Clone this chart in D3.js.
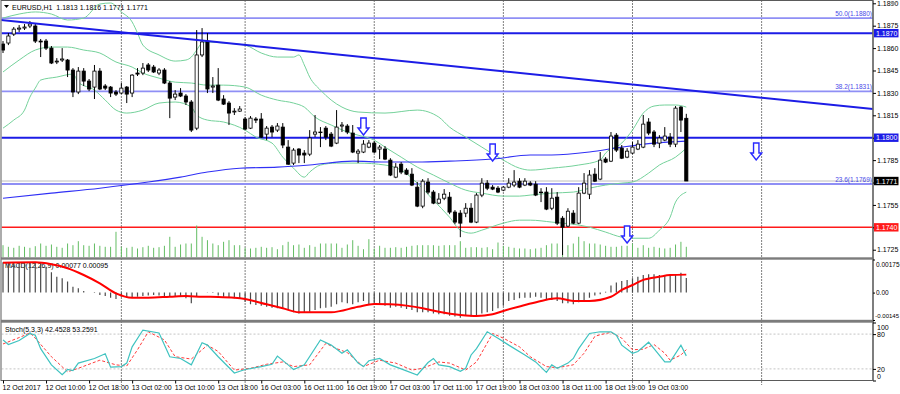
<!DOCTYPE html>
<html><head><meta charset="utf-8">
<script src="https://cdn.jsdelivr.net/npm/d3@7"></script>
<style>
html,body{margin:0;padding:0;background:#fff;}
svg{display:block;font-family:"Liberation Sans",Arial,sans-serif;}
</style></head><body>
<svg id="c" width="900" height="394"></svg>
<script>
// ---------------- DATA ----------------
const symbolTitle = "EURUSD,H1";
const lastOHLC = ["1.1813","1.1816","1.1771","1.1771"];
const opens = [1.18627,1.18634,1.18694,1.18727,1.18734,1.18748,1.18748,1.18647,1.18647,1.18600,
1.18507,1.18520,1.18520,1.18453,1.18306,1.18446,1.18379,1.18339,1.18446,1.18346,
1.18339,1.18306,1.18299,1.18339,1.18299,1.18433,1.18433,1.18487,1.18473,1.18433,
1.18453,1.18366,1.18272,1.18299,1.18279,1.18239,1.18064,1.18554,1.18647,1.18339,
1.18352,1.18259,1.18232,1.18172,1.18178,1.18125,1.18064,1.18125,1.18125,1.18024,
1.18071,1.18051,1.18071,1.17937,1.17830,1.17924,1.17897,1.17890,1.18024,1.18038,
1.18064,1.18024,1.17964,1.18078,1.18078,1.18031,1.17897,1.17904,1.17937,1.17964,
1.17924,1.17924,1.17850,1.17736,1.17823,1.17783,1.17756,1.17669,1.17542,1.17703,
1.17636,1.17562,1.17595,1.17602,1.17502,1.17495,1.17495,1.17528,1.17435,1.17616,
1.17696,1.17669,1.17662,1.17649,1.17669,1.17683,1.17709,1.17683,1.17696,1.17689,
1.17636,1.17636,1.17528,1.17602,1.17461,1.17408,1.17495,1.17428,1.17629,1.17622,
1.17756,1.17723,1.17857,1.17843,1.18017,1.17930,1.17870,1.17897,1.17924,1.17937,
1.18105,1.18038,1.17964,1.17984,1.18004,1.17957,1.18205,1.18130];
const highs = [1.18647,1.18701,1.18741,1.18754,1.18761,1.18781,1.18768,1.18661,1.18661,1.18614,
1.18533,1.18600,1.18527,1.18466,1.18473,1.18466,1.18393,1.18487,1.18466,1.18359,
1.18346,1.18319,1.18366,1.18346,1.18426,1.18466,1.18500,1.18500,1.18487,1.18466,
1.18466,1.18379,1.18319,1.18332,1.18292,1.18252,1.18721,1.18734,1.18701,1.18406,
1.18466,1.18285,1.18245,1.18198,1.18212,1.18138,1.18145,1.18138,1.18165,1.18078,
1.18085,1.18098,1.18098,1.17984,1.17930,1.17930,1.17917,1.18051,1.18152,1.18071,
1.18078,1.18038,1.18185,1.18105,1.18091,1.18085,1.17924,1.17984,1.17984,1.17977,
1.17951,1.17944,1.17863,1.17830,1.17837,1.17796,1.17796,1.17703,1.17723,1.17729,
1.17649,1.17629,1.17656,1.17636,1.17515,1.17515,1.17562,1.17562,1.17629,1.17729,
1.17716,1.17683,1.17676,1.17676,1.17729,1.17783,1.17729,1.17729,1.17709,1.17709,
1.17662,1.17669,1.17662,1.17636,1.17475,1.17528,1.17515,1.17669,1.17763,1.17783,
1.17796,1.17904,1.17870,1.18038,1.18031,1.17951,1.17930,1.17971,1.17984,1.18152,
1.18131,1.18051,1.18017,1.18071,1.18031,1.18212,1.18212,1.18160];
const lows = [1.18567,1.18620,1.18681,1.18708,1.18721,1.18734,1.18634,1.18540,1.18587,1.18493,
1.18493,1.18507,1.18406,1.18272,1.18292,1.18346,1.18312,1.18259,1.18319,1.18319,
1.18272,1.18279,1.18292,1.18232,1.18272,1.18413,1.18419,1.18440,1.18433,1.18419,
1.18359,1.18131,1.18252,1.18272,1.18219,1.18038,1.18051,1.18540,1.18299,1.18299,
1.18245,1.18219,1.18085,1.18152,1.18172,1.18051,1.18058,1.18098,1.17998,1.17984,
1.18004,1.18038,1.17930,1.17817,1.17817,1.17830,1.17830,1.17877,1.18004,1.17937,
1.17984,1.17937,1.17957,1.18038,1.18024,1.17897,1.17830,1.17897,1.17930,1.17897,
1.17857,1.17850,1.17743,1.17729,1.17756,1.17750,1.17676,1.17535,1.17528,1.17622,
1.17555,1.17555,1.17582,1.17488,1.17421,1.17334,1.17468,1.17428,1.17428,1.17602,
1.17649,1.17649,1.17629,1.17642,1.17662,1.17669,1.17662,1.17676,1.17676,1.17609,
1.17569,1.17515,1.17515,1.17415,1.17214,1.17401,1.17421,1.17421,1.17622,1.17589,
1.17703,1.17716,1.17830,1.17837,1.17904,1.17857,1.17863,1.17890,1.17917,1.17930,
1.18017,1.17937,1.17930,1.17977,1.17937,1.17937,1.18038,1.17710];
const closes = [1.18587,1.18681,1.18727,1.18734,1.18741,1.18761,1.18647,1.18641,1.18600,1.18500,
1.18513,1.18527,1.18453,1.18306,1.18446,1.18379,1.18326,1.18446,1.18326,1.18332,
1.18299,1.18292,1.18332,1.18292,1.18419,1.18426,1.18466,1.18453,1.18440,1.18453,
1.18366,1.18265,1.18292,1.18279,1.18239,1.18051,1.18554,1.18641,1.18326,1.18346,
1.18252,1.18225,1.18165,1.18178,1.18192,1.18058,1.18131,1.18118,1.18004,1.18064,
1.18038,1.18078,1.17951,1.17823,1.17917,1.17884,1.17884,1.17998,1.18038,1.18035,
1.18004,1.17944,1.18071,1.18085,1.18038,1.17904,1.17910,1.17957,1.17964,1.17904,
1.17937,1.17857,1.17750,1.17803,1.17770,1.17756,1.17683,1.17542,1.17709,1.17636,
1.17562,1.17589,1.17622,1.17502,1.17435,1.17428,1.17528,1.17435,1.17616,1.17696,
1.17662,1.17656,1.17636,1.17669,1.17696,1.17703,1.17669,1.17709,1.17683,1.17616,
1.17633,1.17522,1.17595,1.17428,1.17401,1.17508,1.17428,1.17629,1.17696,1.17750,
1.17709,1.17850,1.17837,1.18011,1.17917,1.17863,1.17910,1.17937,1.17957,1.18091,
1.18031,1.17957,1.17998,1.18011,1.17957,1.18198,1.18118,1.17710];
const volumes = [3075,2675,2425,2925,2675,2425,2825,3500,2925,3250,
2675,2425,3500,3075,4075,3075,2925,3500,2925,2675,
2675,6425,2675,2425,2675,2250,2575,2925,2425,2575,
2925,5175,2675,3250,3500,3500,8000,5175,4325,3500,
3075,3925,4325,3075,3075,2425,2250,2425,2675,2425,
2575,2075,3075,3925,3075,3250,2425,3075,2675,3500,
3500,3500,3500,2425,3250,4325,2925,2075,4575,2250,
2925,2425,2425,2575,2425,2675,2925,3075,3075,3075,
3075,2925,3075,3075,3075,4075,2425,2575,2575,2425,
2575,2075,3750,2925,2675,2425,2250,2250,2075,2250,
2425,3075,3500,3500,3075,3075,3500,5175,4075,3500,
3500,3250,2925,2675,2675,2925,2925,3500,2425,3075,
2425,2675,2425,2250,2425,3250,3925,2675];
const macdMain = [0.00160,0.00160,0.00160,0.00160,0.00160,0.00160,0.00160,0.00155,0.00137,0.00107,
0.00084,0.00076,0.00058,0.00031,0.00023,0.00008,0.00001,-0.00002,-0.00013,-0.00018,
-0.00027,-0.00034,-0.00022,-0.00027,-0.00027,-0.00022,-0.00018,-0.00016,-0.00013,-0.00016,
-0.00022,-0.00018,-0.00022,-0.00022,-0.00030,-0.00057,-0.00022,0.00001,0.00002,-0.00002,
-0.00016,-0.00022,-0.00027,-0.00030,-0.00034,-0.00048,-0.00062,-0.00066,-0.00069,-0.00075,
-0.00080,-0.00083,-0.00087,-0.00092,-0.00104,-0.00110,-0.00104,-0.00101,-0.00092,-0.00083,
-0.00080,-0.00075,-0.00062,-0.00051,-0.00057,-0.00062,-0.00051,-0.00044,-0.00062,-0.00066,
-0.00062,-0.00069,-0.00080,-0.00075,-0.00080,-0.00087,-0.00092,-0.00104,-0.00104,-0.00104,
-0.00110,-0.00115,-0.00115,-0.00122,-0.00127,-0.00133,-0.00122,-0.00127,-0.00122,-0.00110,
-0.00104,-0.00097,-0.00083,-0.00069,-0.00044,-0.00039,-0.00030,-0.00027,-0.00027,-0.00022,
-0.00027,-0.00034,-0.00039,-0.00044,-0.00057,-0.00057,-0.00062,-0.00051,-0.00039,-0.00027,
-0.00015,-0.00009,0.00005,0.00037,0.00054,0.00061,0.00067,0.00076,0.00084,0.00093,
0.00097,0.00097,0.00093,0.00093,0.00097,0.00098,0.00105,0.00077];
// sparse readings: [bar index, value]
const macdSignal = [[0,0.00158],[6,0.00160],[9,0.00150],[12,0.00129],[15,0.00093],[18,0.00049],[21,-0.00004],[24,-0.00027],[27,-0.00027],[31,-0.00022],[34,-0.00018],[37,-0.00022],[40,-0.00023],[43,-0.00027],[45,-0.00034],[49,-0.00062],[52,-0.00083],[55,-0.00104],[61,-0.00104],[66,-0.00075],[69,-0.00060],[72,-0.00062],[75,-0.00069],[78,-0.00083],[81,-0.00101],[85,-0.00118],[88,-0.00124],[91,-0.00115],[93,-0.00097],[97,-0.00066],[100,-0.00044],[103,-0.00030],[106,-0.00044],[109,-0.00044],[113,-0.00022],[115,0.00014],[117,0.00040],[119,0.00067],[122,0.00084],[124,0.00093],[127,0.00095]];
const stochK = [[0,70],[1,62],[3,69],[5,81],[6,78],[7,55],[9,27],[11,10],[12,19],[13,17],[14,30],[17,38],[19,46],[20,23],[22,24],[23,30],[24,58],[26,87],[29,82],[31,41],[33,38],[35,27],[37,65],[38,61],[40,41],[43,13],[45,19],[48,24],[50,28],[51,42],[53,27],[54,19],[56,27],[59,70],[61,61],[63,47],[64,53],[66,30],[67,24],[68,34],[70,38],[72,27],[74,20],[77,9.5],[79,31],[80,38],[81,27],[83,24],[85,16],[86,21],[87,44],[88,55],[90,84],[92,73],[94,61],[97,44],[99,32],[101,14],[102,27],[103,21],[105,30],[106,38],[107,55],[109,81],[111,84],[113,84],[114,78],[115,61],[117,47],[118,50],[120,66],[121,55],[123,32],[124,32],[126,61],[127,42.45]];
const stochD = [[0,63],[3,74],[5,82],[6,73],[9,41],[12,15],[14,21],[18,35],[21,27],[23,25],[25,53],[27,84],[30,70],[32,41],[35,37],[38,61],[40,50],[43,18],[46,21],[49,28],[52,32],[54,24],[57,27],[60,64],[62,55],[64,48],[67,24],[70,35],[73,30],[76,18],[78,21],[81,32],[83,30],[86,18],[88,32],[91,81],[93,73],[96,58],[98,41],[101,24],[103,22],[106,27],[108,47],[110,76],[111,79],[113,83],[115,73],[117,53],[119,54],[121,62],[123,47],[124,35],[126,44],[127,53.26]];
const bbUpper = [[0,1.18801],[3,1.18828],[6,1.18842],[9,1.18828],[12,1.18788],[15,1.18801],[18,1.18895],[20,1.18902],[22,1.18842],[24,1.18775],[25,1.18701],[26,1.18620],[29,1.18554],[32,1.18513],[34,1.18520],[35,1.18540],[36,1.18587],[37,1.18634],[38,1.18641],[41,1.18634],[45,1.18620],[48,1.18567],[51,1.18540],[54,1.18540],[55,1.18554],[56,1.18487],[57,1.18406],[59,1.18319],[61,1.18252],[63,1.18205],[66,1.18172],[71,1.18165],[77,1.18185],[81,1.18138],[83,1.18071],[86,1.18004],[89,1.17937],[93,1.17850],[96,1.17796],[98,1.17783],[102,1.17796],[107,1.17817],[111,1.17850],[112,1.17897],[115,1.17964],[117,1.18051],[119,1.18165],[121,1.18212],[123,1.18219],[125,1.18219],[127,1.18205]];
const bbMiddle = [[0,1.18440],[3,1.18520],[6,1.18587],[9,1.18607],[12,1.18607],[15,1.18587],[18,1.18567],[21,1.18507],[24,1.18473],[26,1.18433],[29,1.18399],[32,1.18372],[35,1.18366],[38,1.18352],[41,1.18352],[45,1.18339],[48,1.18285],[51,1.18252],[54,1.18232],[56,1.18205],[58,1.18138],[61,1.18085],[64,1.18038],[66,1.18017],[69,1.17984],[71,1.17937],[74,1.17870],[77,1.17803],[80,1.17750],[83,1.17696],[86,1.17649],[89,1.17629],[93,1.17609],[96,1.17609],[98,1.17616],[102,1.17629],[106,1.17636],[109,1.17662],[112,1.17683],[115,1.17696],[117,1.17703],[120,1.17763],[122,1.17817],[125,1.17870],[127,1.17930]];
const bbLower = [[0,1.18064],[2,1.18118],[4,1.18185],[5,1.18272],[6,1.18332],[7,1.18386],[10,1.18406],[13,1.18426],[14,1.18372],[17,1.18319],[19,1.18252],[21,1.18185],[23,1.18165],[26,1.18185],[29,1.18232],[32,1.18239],[35,1.18205],[36,1.18152],[38,1.18118],[41,1.18105],[45,1.18051],[47,1.18004],[50,1.17964],[52,1.17870],[54,1.17796],[56,1.17736],[57,1.17770],[59,1.17817],[62,1.17830],[66,1.17830],[71,1.17817],[74,1.17783],[77,1.17696],[80,1.17582],[83,1.17468],[85,1.17381],[87,1.17361],[89,1.17381],[93,1.17428],[96,1.17448],[98,1.17448],[102,1.17435],[109,1.17401],[112,1.17368],[115,1.17334],[117,1.17327],[120,1.17327],[122,1.17381],[124,1.17468],[125,1.17569],[127,1.17636]];
const movingAvg = [[0,1.17595],[9,1.17629],[18,1.17662],[27,1.17703],[33,1.17736],[38,1.17770],[44,1.17796],[51,1.17803],[57,1.17817],[65,1.17843],[71,1.17837],[77,1.17837],[83,1.17843],[91,1.17857],[98,1.17884],[102,1.17884],[109,1.17904],[115,1.17937],[121,1.17964],[127,1.17977]];
const timeLabels = ["12 Oct 2017","12 Oct 10:00","12 Oct 18:00","13 Oct 02:00","13 Oct 10:00","13 Oct 18:00","16 Oct 03:00","16 Oct 11:00","16 Oct 19:00","17 Oct 03:00","17 Oct 11:00","17 Oct 19:00","18 Oct 03:00","18 Oct 11:00","18 Oct 19:00","19 Oct 03:00"];
const timeLabelBars = [0,8,16,24,32,40,48,56,64,72,80,88,96,104,112,120];
const daySeparatorBars = [22,45,69,93,117,141];
const priceTicks = [1.1725,1.1740,1.1755,1.1770,1.1785,1.1800,1.1815,1.1830,1.1845,1.1860,1.1875,1.1890];
const levelBlue = [1.1870,1.1800];
const levelRed = [1.1740];
const fiboPct = ["50.0","38.2","23.6"];
const fiboPrice = [1.1880,1.1831,1.1769];
const lastPrice = 1.1771;
const trendBars = [0,150];
const trendPrices = [1.18786,1.18235];
const arrowBars = [67,91,116,140];
const arrowPrices = [1.18018,1.17844,1.17295,1.17851];
const macdTicks = [0.00175,0,-0.00145];
const macdTickText = ["0.00175","0.00","-0.00145"];
const stochTicks = [100,80,20,0];
const macdTitle = "MACD(12,26,9) 0.00077 0.00095";
const stochTitle = "Stoch(5,3,3) 42.4528 53.2591";

// ---------------- LAYOUT ----------------
const L = 1.5, R = 873;
const mainTop = 0.5, mainBot = 257.5;
const macdTop = 259.5, macdBot = 320;
const stTop = 322.5, stBot = 380.5;

const x = d3.scaleLinear().domain([0,127]).range([3,686.3]);
const y = d3.scaleLinear().domain([1.17198,1.18922]).range([257.5,0]);
const yVol = d3.scaleLinear().domain([0,8000]).range([257.5,225.5]);
const yM = d3.scaleLinear().domain([-0.00145,0.00175]).range([macdBot,macdTop]);
const yS = d3.scaleLinear().domain([0,100]).range([stBot,stTop]);

const svg = d3.select('#c');
svg.append('rect').attr('width',900).attr('height',394).attr('fill','#fff');
const defs = svg.append('defs');
function clip(id,y0,y1){defs.append('clipPath').attr('id',id).append('rect').attr('x',L).attr('y',y0).attr('width',R-L).attr('height',y1-y0);}
clip('cMain',mainTop,mainBot); clip('cMacd',macdTop,macdBot); clip('cSt',stTop,stBot);
const FONT = 7;

// day separators
svg.append('g').selectAll('line').data(daySeparatorBars).join('line')
  .attr('x1',d=>x(d)).attr('x2',d=>x(d)).attr('y1',0.5).attr('y2',385)
  .attr('stroke','#000').attr('stroke-width',1).attr('stroke-dasharray','1,2');

// ---------- main panel ----------
const gm = svg.append('g').attr('clip-path','url(#cMain)');
gm.selectAll('line.fib').data(fiboPrice).join('line').attr('class','fib')
  .attr('x1',L).attr('x2',R).attr('y1',d=>y(d)).attr('y2',d=>y(d))
  .attr('stroke','#8f8ff5').attr('stroke-width',1.8);
gm.append('line').attr('x1',L).attr('x2',R).attr('y1',y(lastPrice)).attr('y2',y(lastPrice))
  .attr('stroke','#bdbdbd').attr('stroke-width',1);
gm.selectAll('line.lb').data(levelBlue).join('line').attr('class','lb')
  .attr('x1',L).attr('x2',R).attr('y1',d=>y(d)).attr('y2',d=>y(d))
  .attr('stroke','#1c1ce6').attr('stroke-width',2);
gm.selectAll('line.lr').data(levelRed).join('line').attr('class','lr')
  .attr('x1',L).attr('x2',R).attr('y1',d=>y(d)).attr('y2',d=>y(d))
  .attr('stroke','#ff1a1a').attr('stroke-width',1.5);

const idx = d3.range(opens.length);
gm.selectAll('line.vol').data(idx).join('line').attr('class','vol')
  .attr('x1',i=>x(i)).attr('x2',i=>x(i)).attr('y1',yVol(0)).attr('y2',i=>yVol(volumes[i]))
  .attr('stroke','#63bd63').attr('stroke-width',1);

const pl = d3.line().x(d=>x(d[0])).y(d=>y(d[1])).curve(d3.curveMonotoneX);
[bbUpper,bbMiddle,bbLower].forEach(s=>{
  gm.append('path').attr('d',pl(s)).attr('fill','none').attr('stroke','#74d19a').attr('stroke-width',1);
});
gm.append('path').attr('d',pl(movingAvg)).attr('fill','none').attr('stroke','#3030f5').attr('stroke-width',1.1);

gm.selectAll('line.wick').data(idx).join('line').attr('class','wick')
  .attr('x1',i=>x(i)).attr('x2',i=>x(i)).attr('y1',i=>y(highs[i])).attr('y2',i=>y(lows[i]))
  .attr('stroke','#000').attr('stroke-width',1);
gm.selectAll('rect.body').data(idx).join('rect').attr('class','body')
  .attr('x',i=>x(i)-1.6).attr('width',3.2)
  .attr('y',i=>y(Math.max(opens[i],closes[i])))
  .attr('height',i=>Math.max(0.6,Math.abs(y(opens[i])-y(closes[i]))))
  .attr('fill',i=>closes[i]<opens[i]?'#000':'#fff')
  .attr('stroke','#000').attr('stroke-width',0.8);

const tSlope = (trendPrices[1]-trendPrices[0])/(trendBars[1]-trendBars[0]);
const tStart = x.invert(0), tEnd = x.invert(R);
gm.append('line')
  .attr('x1',x(tStart)).attr('y1',y(trendPrices[0]+tSlope*(tStart-trendBars[0])))
  .attr('x2',x(tEnd)).attr('y2',y(trendPrices[0]+tSlope*(tEnd-trendBars[0])))
  .attr('stroke','#1c1ce6').attr('stroke-width',2);

const arrowPath = "M0,0 L-5.5,-7 L-2.7,-7 L-2.7,-17 L2.7,-17 L2.7,-7 L5.5,-7 Z";
gm.selectAll('path.arw').data(d3.range(arrowBars.length)).join('path').attr('class','arw')
  .attr('d',arrowPath)
  .attr('transform',k=>`translate(${x(arrowBars[k])},${y(arrowPrices[k])})`)
  .attr('fill','#fff').attr('stroke','#2a2aff').attr('stroke-width',1.4).attr('stroke-linejoin','miter');

svg.append('g').selectAll('text').data(d3.range(fiboPrice.length)).join('text')
  .attr('x',R-1).attr('y',k=>y(fiboPrice[k])-2).attr('text-anchor','end')
  .attr('font-size',6.5).attr('fill','#4a4ae8')
  .text(k=>`${fiboPct[k]}(${fiboPrice[k].toFixed(4)})`);

svg.append('path').attr('d','M4,5 L9,5 L6.5,8 Z').attr('fill','#000');
svg.append('text').attr('x',12).attr('y',10).attr('font-size',FONT).attr('fill','#000')
  .attr('xml:space','preserve')
  .text(`${symbolTitle}  ${lastOHLC.join(' ')}`);

// ---------- MACD panel ----------
svg.append('text').attr('x',5).attr('y',268).attr('font-size',FONT).attr('fill','#000').text(macdTitle);
const gM = svg.append('g').attr('clip-path','url(#cMacd)');
gM.selectAll('line').data(idx).join('line')
  .attr('x1',i=>x(i)).attr('x2',i=>x(i)).attr('y1',yM(0)).attr('y2',i=>yM(macdMain[i]))
  .attr('stroke','#4a4a4a').attr('stroke-width',1.2);
const ml = d3.line().x(d=>x(d[0])).y(d=>yM(d[1])).curve(d3.curveMonotoneX);
gM.append('path').attr('d',ml(macdSignal)).attr('fill','none').attr('stroke','#ff0000').attr('stroke-width',2);

// ---------- Stochastic panel ----------
const gS = svg.append('g').attr('clip-path','url(#cSt)');
gS.selectAll('line.lvl').data([80,20]).join('line').attr('class','lvl')
  .attr('x1',L).attr('x2',R).attr('y1',d=>yS(d)).attr('y2',d=>yS(d))
  .attr('stroke','#c4c4c4').attr('stroke-width',1).attr('stroke-dasharray','2,2');
const sl = d3.line().x(d=>x(d[0])).y(d=>yS(d[1]));
gS.append('path').attr('d',sl(stochD)).attr('fill','none').attr('stroke','#ff3a3a').attr('stroke-width',1).attr('stroke-dasharray','3,2');
gS.append('path').attr('d',sl(stochK)).attr('fill','none').attr('stroke','#3fc3c0').attr('stroke-width',1.2);
svg.append('text').attr('x',5).attr('y',332).attr('font-size',FONT).attr('fill','#000').text(stochTitle);

// ---------- frames ----------
svg.append('rect').attr('x',1).attr('y',0.5).attr('width',R-1).attr('height',stBot-0.5)
  .attr('fill','none').attr('stroke','#5a5a5a').attr('stroke-width',1);
[ [mainBot,macdTop], [macdBot,stTop] ].forEach(([a,b])=>{
  svg.append('rect').attr('x',1).attr('y',a-0.2).attr('width',R-0.5).attr('height',b-a+0.4).attr('fill','#7c7c7c');
});
svg.append('line').attr('x1',R).attr('x2',R).attr('y1',0.5).attr('y2',stBot).attr('stroke','#6a6a6a').attr('stroke-width',1.4);

// ---------- axes ----------
const hideNear = [...levelBlue,...levelRed,lastPrice];
const pa = d3.axisRight(y).tickValues(priceTicks).tickSize(3).tickPadding(1)
  .tickFormat(v=>hideNear.some(h=>Math.abs(h-v)<0.0003)?'':d3.format('.4f')(v));
const gPA = svg.append('g').attr('transform',`translate(${R},0)`).call(pa);
gPA.select('.domain').remove();
gPA.selectAll('text').attr('font-size',FONT).attr('font-family','Liberation Sans, Arial, sans-serif').attr('fill','#000');
gPA.selectAll('line').attr('stroke','#000');

function tag(p,bg){
  const gy=y(p);
  svg.append('rect').attr('x',R+1).attr('y',gy-4.2).attr('width',24.5).attr('height',8.4).attr('fill',bg);
  svg.append('text').attr('x',R+3).attr('y',gy+2.6).attr('font-size',FONT).attr('fill','#fff').text(d3.format('.4f')(p));
}
levelBlue.forEach(p=>tag(p,'#1c1ce6'));
tag(lastPrice,'#000');
levelRed.forEach(p=>tag(p,'#ff1a1a'));

// MACD axis
const ma = d3.axisRight(yM).tickValues(macdTicks).tickSize(2).tickPadding(0).tickFormat((v,k)=>macdTickText[k]);
const gMA = svg.append('g').attr('transform',`translate(${R},0)`).call(ma);
gMA.select('.domain').remove();
gMA.selectAll('text').attr('font-family','Liberation Sans, Arial, sans-serif').attr('fill','#000')
  .attr('font-size',v=>v<0?6:6.5)
  .attr('text-anchor',v=>v<0?'end':'start')
  .attr('x',v=>v<0?26:3)
  .attr('dy',(v)=>v===macdTicks[0]?'1.05em':(v===macdTicks[2]?'-0.35em':'0.32em'));
gMA.selectAll('line').attr('stroke','#000');

const sa = d3.axisRight(yS).tickValues(stochTicks).tickSize(3).tickPadding(1).tickFormat(d3.format('d'));
const gSA = svg.append('g').attr('transform',`translate(${R},0)`).call(sa);
gSA.select('.domain').remove();
gSA.selectAll('text').attr('font-size',FONT).attr('font-family','Liberation Sans, Arial, sans-serif').attr('fill','#000')
  .attr('dy',v=>v===100?'0.95em':(v===0?'-0.3em':'0.32em'));
gSA.selectAll('line').attr('stroke','#000');

const ta = d3.axisBottom(x).tickValues(timeLabelBars).tickSize(3).tickPadding(2)
  .tickFormat((v,k)=>timeLabels[k]);
const gTA = svg.append('g').attr('transform',`translate(0,${stBot})`).call(ta);
gTA.select('.domain').remove();
gTA.selectAll('text').attr('font-size',FONT).attr('font-family','Liberation Sans, Arial, sans-serif')
  .attr('fill','#000').attr('text-anchor','start').attr('x',-1);
gTA.selectAll('line').attr('stroke','#000');

svg.append('path').attr('d',`M${R+17},2 L${R+24},2 L${R+20.5},6 Z`).attr('fill','#a0a0a0');
</script>
</body></html>
